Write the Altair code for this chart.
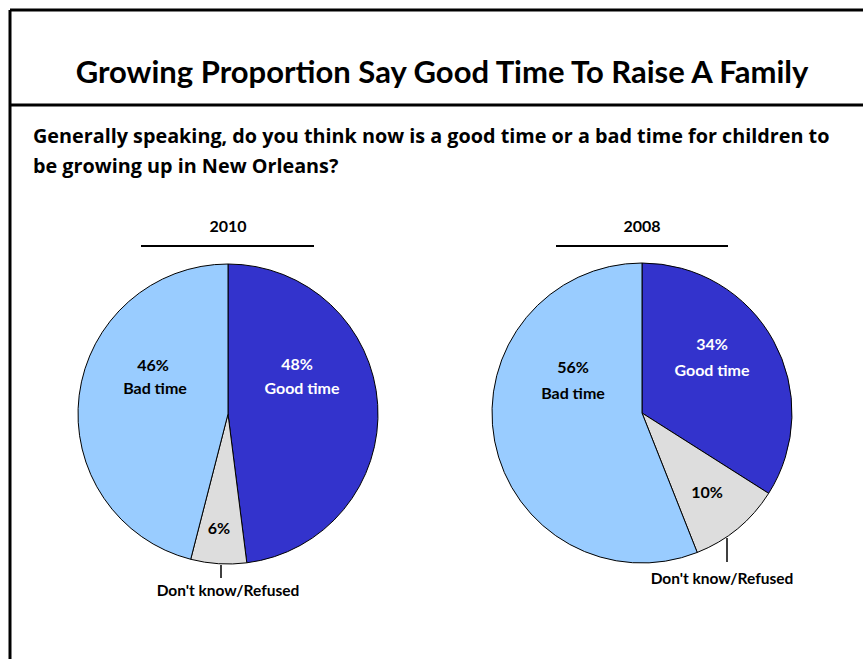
import altair as alt
import pandas as pd

years = ["2010", "2008"]
categories = ["Good time", "Don't know/Refused", "Bad time"]
values_2010 = [48, 6, 46]
values_2008 = [34, 10, 56]
colors = ["#3333CC", "#DDDDDD", "#99CCFF"]

title_text = "Growing Proportion Say Good Time To Raise A Family"
question_lines = [
    "Generally speaking, do you think now is a good time or a bad time for children to",
    "be growing up in New Orleans?",
]

rows = []
for yr, vals in zip(years, [values_2010, values_2008]):
    for i, (c, v) in enumerate(zip(categories, vals)):
        rows.append({"year": yr, "category": c, "value": v, "idx": i})
df = pd.DataFrame(rows)

FONT = "Lato"
W, H = 863, 659
one = pd.DataFrame({"a": [0]})


def rule(x1, x2, y1, y2, w=2):
    return alt.Chart(one).mark_rule(color="black", strokeWidth=w).encode(
        x=alt.value(x1), x2=alt.value(x2), y=alt.value(y1), y2=alt.value(y2)
    )


def label(text, x, y, size=16, color="black", align="center", font=FONT):
    return alt.Chart(one).mark_text(
        text=text, font=font, fontWeight="bold", fontSize=size, color=color,
        align=align, baseline="middle"
    ).encode(x=alt.value(x), y=alt.value(y))


def pie(yr, cx, cy):
    return alt.Chart(df).transform_filter(alt.datum.year == yr).mark_arc(
        outerRadius=150, stroke="black", strokeWidth=1
    ).encode(
        theta=alt.Theta("value:Q", stack=True),
        order=alt.Order("idx:Q"),
        color=alt.Color("category:N", scale=alt.Scale(domain=categories, range=colors), legend=None),
        x=alt.value(cx), y=alt.value(cy),
    )


layers = [
    # frame
    rule(10, W, 10, 10, 3),
    rule(10, 10, 10, H, 3),
    rule(10, W, 105, 105, 3),
    label(title_text, 442, 74, size=31),
    label(question_lines[0], 33, 137, size=19.8, align="left", font="Open Sans"),
    label(question_lines[1], 33, 167, size=19.8, align="left", font="Open Sans"),
    # 2010
    label(years[0], 228, 227, size=16),
    rule(141, 314, 246, 246, 2),
    pie(years[0], 228, 414),
    label(f"{values_2010[0]}%", 297, 365, color="white"),
    label(categories[0], 302, 389, color="white"),
    label(f"{values_2010[2]}%", 153, 366),
    label(categories[2], 155, 389),
    label(f"{values_2010[1]}%", 219, 529),
    rule(221, 221, 565, 578, 1.5),
    label(categories[1], 228, 591, size=15.5),
    # 2008
    label(years[1], 642, 227, size=16),
    rule(556, 728, 246, 246, 2),
    pie(years[1], 642, 413),
    label(f"{values_2008[0]}%", 712, 345, color="white"),
    label(categories[0], 712, 371, color="white"),
    label(f"{values_2008[2]}%", 573, 368),
    label(categories[2], 573, 394),
    label(f"{values_2008[1]}%", 707, 493),
    rule(727, 727, 538, 562, 1.5),
    label(categories[1], 722, 579, size=15.5),
]

chart = alt.layer(*layers).resolve_scale(theta="independent").properties(
    width=W, height=H, autosize=alt.AutoSizeParams(type="none"), padding=0,
    background="white"
).configure_view(stroke=None)

chart.save("out.html", embed_options={"renderer": "svg", "actions": False})
